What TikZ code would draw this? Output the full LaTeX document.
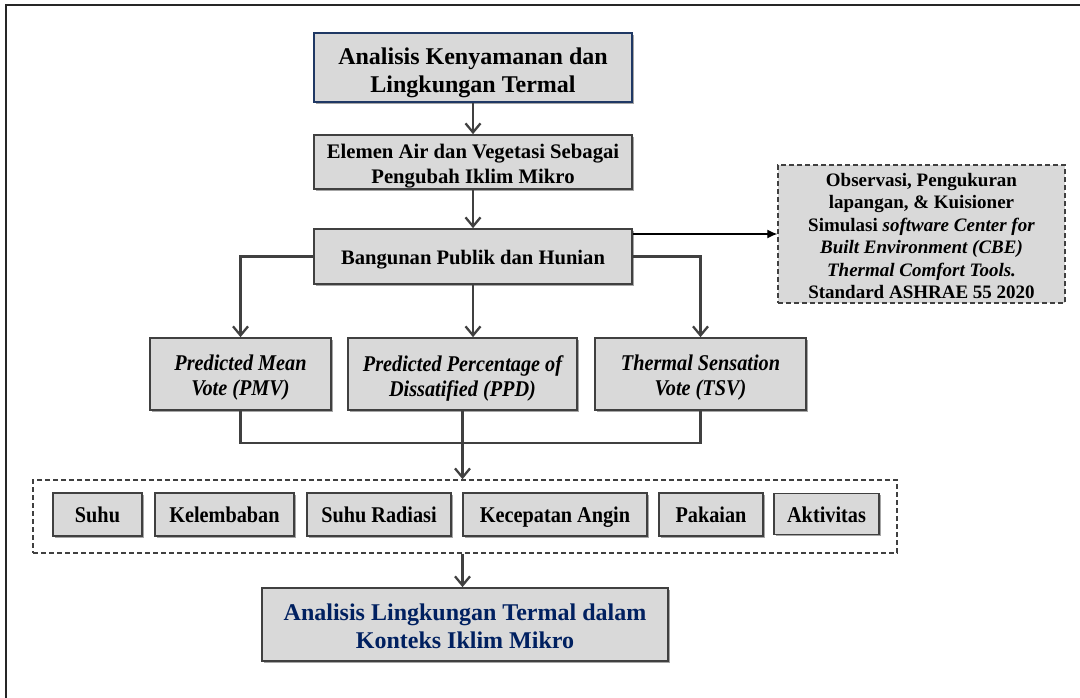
\documentclass[tikz,border=0pt]{standalone}
\usepackage{fontspec}
\setmainfont{Liberation Serif}
\newfontfamily\condserif{Liberation Serif}[FakeStretch=0.9]
\usetikzlibrary{arrows.meta,shadows}
\definecolor{boxfill}{HTML}{D9D9D9}
\definecolor{edge}{HTML}{404040}
\definecolor{navy}{HTML}{1F3864}
\definecolor{navytext}{HTML}{002060}
\begin{document}
\begin{tikzpicture}[x=1pt,y=-1pt,
  base/.style={draw=edge, line width=1.7pt, fill=boxfill, inner sep=0pt},
  box/.style={base, general shadow={fill=black!35, shadow xshift=1.8pt, shadow yshift=-1.8pt}},
  txt/.style={align=center, inner sep=0pt},
  conn/.style={draw=edge, line width=2.3pt},
  arr/.style={conn, -{Straight Barb[length=9pt,width=15pt]}},
  smallbox/.style={box, minimum height=43pt},
  smalltxt/.style={inner sep=0pt, text height=15pt, text depth=5pt, font=\condserif\bfseries\fontsize{22.5}{26}\selectfont},
  midbox/.style={box, minimum height=72pt},
  midtxt/.style={txt, font=\condserif\bfseries\itshape\fontsize{22.5}{25}\selectfont},
]
\useasboundingbox (0,0) rectangle (1080,698);
\draw[line width=1.5pt, draw=black!85] (6,698) -- (6,5) -- (1080,5);

% boxes
\node[box, draw=navy, line width=2pt, minimum width=318pt, minimum height=69pt] (title) at (473,67.5) {};
\node[box, minimum width=318pt, minimum height=54pt] (elemen) at (473,162) {};
\node[box, minimum width=318pt, minimum height=55pt] (bang) at (473,256.5) {};
\node[base, dashed, dash pattern=on 5pt off 3pt, line width=1.4pt, minimum width=287pt, minimum height=138pt] (right) at (921.5,234) {};
\node[midbox, minimum width=181pt] (pmv) at (240.5,374) {};
\node[midbox, minimum width=229pt] (ppd) at (462.5,374) {};
\node[midbox, minimum width=211pt] (tsv) at (700.5,374) {};
\node[draw=edge, dashed, dash pattern=on 5pt off 3pt, line width=1.6pt, minimum width=864pt, minimum height=73pt] (cont) at (465,516.5) {};
\node[smallbox, minimum width=89pt] (suhu) at (97.5,514.5) {};
\node[smallbox, minimum width=139pt] (kel) at (224.5,514.5) {};
\node[smallbox, minimum width=144pt] (rad) at (379,514.5) {};
\node[smallbox, minimum width=184pt] (angin) at (555,514.5) {};
\node[smallbox, minimum width=104pt] (pak) at (711,514.5) {};
\node[smallbox, minimum width=105pt, minimum height=41pt] (akt) at (826.5,514) {};
\node[box, minimum width=406pt, minimum height=73pt] (final) at (465,624.5) {};

% texts
\node[txt, font=\bfseries\fontsize{24}{28}\selectfont] (title-t) at ([yshift=-5pt]title.center)
  {Analisis Kenyamanan dan\\Lingkungan Termal};
\node[txt, font=\bfseries\fontsize{20.7}{25}\selectfont] (elemen-t) at ([yshift=-4pt]elemen.center)
  {Elemen Air dan Vegetasi Sebagai\\Pengubah Iklim Mikro};
\node[txt, font=\bfseries\fontsize{20.6}{24}\selectfont] (bang-t) at ([yshift=-3pt]bang.center)
  {Bangunan Publik dan Hunian};
\node[txt, font=\bfseries\fontsize{19}{22.4}\selectfont] (right-t) at ([yshift=-2pt]right.center)
  {Observasi, Pengukuran\\lapangan, \& Kuisioner\\Simulasi \textit{software Center for}\\\textit{Built Environment (CBE)}\\\textit{Thermal Comfort Tools.}\\Standard ASHRAE 55 2020};
\node[midtxt] (pmv-t) at ([yshift=-4pt]pmv.center) {Predicted Mean\\Vote (PMV)};
\node[midtxt] (ppd-t) at ([yshift=-4pt]ppd.center) {Predicted Percentage of\\Dissatified (PPD)};
\node[midtxt] (tsv-t) at ([yshift=-4pt]tsv.center) {Thermal Sensation\\Vote (TSV)};
\node[smalltxt] (suhu-t) at ([yshift=-2.5pt]suhu.center) {Suhu};
\node[smalltxt] (kel-t) at ([yshift=-2.5pt]kel.center) {Kelembaban};
\node[smalltxt] (rad-t) at ([yshift=-2.5pt]rad.center) {Suhu Radiasi};
\node[smalltxt] (angin-t) at ([yshift=-2.5pt]angin.center) {Kecepatan Angin};
\node[smalltxt] (pak-t) at ([yshift=-2.5pt]pak.center) {Pakaian};
\node[smalltxt] (akt-t) at ([yshift=-3pt]akt.center) {Aktivitas};
\node[txt, text=navytext, font=\bfseries\fontsize{24}{28}\selectfont] (final-t) at ([yshift=-2pt]final.center)
  {Analisis Lingkungan Termal dalam\\Konteks Iklim Mikro};

% connectors
\draw[arr] (title.south) -- (elemen.north);
\draw[arr] (elemen.south) -- (bang.north);
\draw[arr] (bang.west) -| (pmv.north);
\draw[arr] (bang.south) -- (bang.south |- ppd.north);
\draw[arr] (bang.east) -| (tsv.north);
\draw[black, line width=1.3pt, -{Latex[length=10pt,width=9pt]}] (bang.east |- right.west) -- (right.west);

\coordinate (merge) at (462.5,443);
\draw[conn] (pmv.south) |- (merge) -| (tsv.south);
\draw[conn] (ppd.south) -- (merge);
\draw[arr] (merge) -- (merge |- cont.north);
\draw[arr] (cont.south -| merge) -- (final.north -| merge);
\end{tikzpicture}
\end{document}
